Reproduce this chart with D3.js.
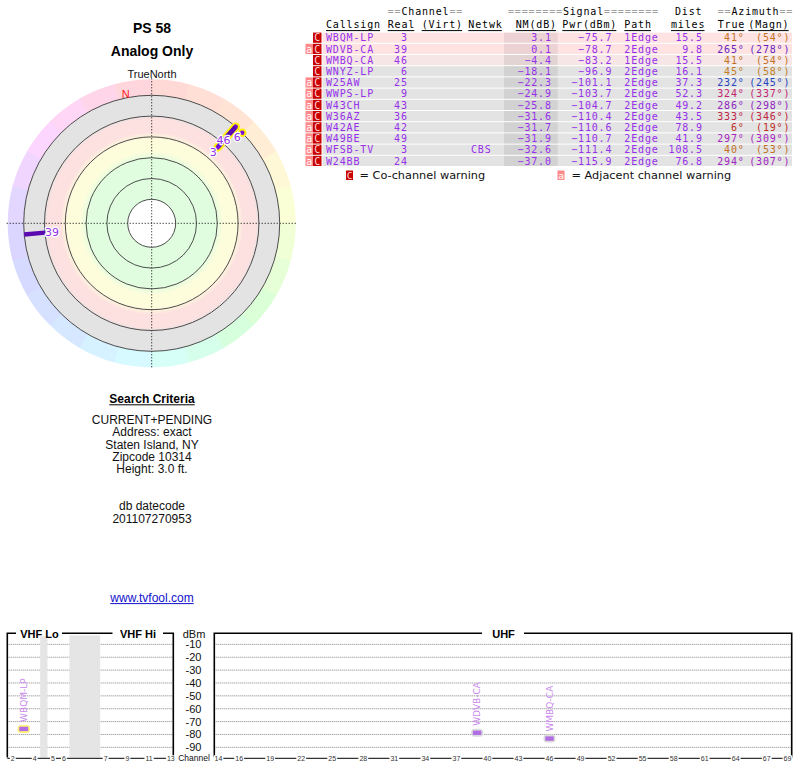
<!DOCTYPE html>
<html><head><meta charset="utf-8">
<script src="https://cdn.jsdelivr.net/npm/d3@7/dist/d3.min.js"></script>
<style>body{margin:0;background:#fff}</style>
</head><body>
<svg id="c" width="800" height="768"></svg>
<script>
// ---------------- DATA ----------------
const titleLines = ["PS 58", "Analog Only"];
const callsigns = ["WBQM-LP","WDVB-CA","WMBQ-CA","WNYZ-LP","W25AW","WWPS-LP","W43CH","W36AZ","W42AE","W49BE","WFSB-TV","W24BB"];
const realCh   = [3,39,46,6,25,9,43,36,42,49,3,24];
const virtCh   = ["","","","","","","","","","","",""];
const networks = ["","","","","","","","","","","CBS",""];
const nmDb     = [3.1,0.1,-4.4,-18.1,-22.3,-24.9,-25.8,-31.6,-31.7,-31.9,-32.6,-37.0];
const pwrDbm   = [-75.7,-78.7,-83.2,-96.9,-101.1,-103.7,-104.7,-110.4,-110.6,-110.7,-111.4,-115.9];
const paths    = ["1Edge","2Edge","1Edge","2Edge","2Edge","2Edge","2Edge","2Edge","2Edge","2Edge","2Edge","2Edge"];
const distMiles= [15.5,9.8,15.5,16.1,37.3,52.3,49.2,43.5,78.9,41.9,108.5,76.8];
const azTrue   = [41,265,41,45,232,324,286,333,6,297,40,294];
const azMagn   = [54,278,54,58,245,337,298,346,19,309,53,307];
const coChannelWarn  = [true,true,true,true,true,true,true,true,true,true,true,true];
const adjChannelWarn = [false,true,false,false,true,true,true,true,true,true,true,true];
const nmRings = [40,30,20,10,0,-10];
const criteriaLines = ["CURRENT+PENDING","Address: exact","Staten Island, NY","Zipcode 10314","Height: 3.0 ft."];
const datecodeLines = ["db datecode","201107270953"];
const siteLink = "www.tvfool.com";
const dbmTicks = [-10,-20,-30,-40,-50,-60,-70,-80,-90];
const vhfTickChannels = [2,4,5,6,7,9,11,13];
const uhfTickChannels = [14,16,19,22,25,28,31,34,37,40,43,46,49,52,55,58,61,64,67,69];
const vhfGapsMHz = [[72,76],[88,174]];

// ---------------- SETUP ----------------
const svg = d3.select("#c");
const SANS = "'Liberation Sans', Arial, sans-serif";
const MONO = "'DejaVu Sans Mono', monospace";
const DJV  = "'DejaVu Sans', Verdana, sans-serif";
const stations = callsigns.map((c,i)=>({i, call:c, ch:realCh[i], virt:virtCh[i], net:networks[i], nm:nmDb[i],
  pwr:pwrDbm[i], path:paths[i], dist:distMiles[i], az:azTrue[i], mag:azMagn[i], co:coChannelWarn[i], adj:adjChannelWarn[i]}));
const PURPLE = "#9630ea";
const textHue = d3.scaleLinear().domain([0,41,232,265,297,324,333,360]).range([0,30,228,265,290,332,348,360]);
const azColor = a => d3.hsl(textHue(a), 0.68, 0.45).formatHex();
const ringHue = d3.scaleLinear().domain([0,45,90,135,180,225,270,315,360]).range([0,25,75,120,180,220,250,305,360]);

// ---------------- TITLES ----------------
const LX = 152;
svg.append("text").attr("x",LX).attr("y",33.3).attr("text-anchor","middle")
  .style("font","bold 14px "+SANS).text(titleLines[0]);
svg.append("text").attr("x",LX).attr("y",56).attr("text-anchor","middle")
  .style("font","bold 14px "+SANS).text(titleLines[1]);
svg.append("text").attr("x",LX).attr("y",77.7).attr("text-anchor","middle")
  .style("font","11px "+SANS).attr("fill","#111").text("TrueNorth");

// ---------------- POLAR ----------------
const cx = 151.7, cy = 223.3;
const rScale = d3.scaleLinear().domain([40,-10]).range([24,128]).clamp(true);
const rOuter = 144;
const pg = svg.append("g").attr("transform",`translate(${cx},${cy})`);
const arc = d3.arc();
d3.range(0,360,15).forEach(a=>{
  pg.append("path").attr("d", arc({innerRadius:126, outerRadius:rOuter,
      startAngle:a*Math.PI/180, endAngle:(a+15.3)*Math.PI/180}))
    .attr("fill", d3.hsl(ringHue(a+7.5),1,0.92).formatHex());
});
const defs = svg.append("defs");
const grad = defs.append("radialGradient").attr("id","zones").attr("gradientUnits","userSpaceOnUse")
  .attr("cx",0).attr("cy",0).attr("r",128);
const R = rScale(-10);
[[0,"#e0fde0"],[rScale(21),"#e0fde0"],[rScale(17),"#fdfddc"],[rScale(11),"#fdfddc"],[rScale(7.5),"#fde0e0"],
 [rScale(1.5),"#fde0e0"],[rScale(-0.5),"#e3e3e3"],[R,"#e3e3e3"]].forEach(([r,c])=>{
  grad.append("stop").attr("offset", r/R).attr("stop-color", c);
});
pg.append("circle").attr("r",R).attr("fill","url(#zones)");
pg.append("circle").attr("r",rScale(40)).attr("fill","#fff");
pg.append("line").attr("x1",-rOuter-1).attr("x2",rOuter+1).attr("y1",0).attr("y2",0)
  .attr("stroke","#000").attr("stroke-dasharray","1,2");
pg.append("line").attr("y1",-rOuter-1).attr("y2",rOuter+1).attr("x1",0).attr("x2",0)
  .attr("stroke","#000").attr("stroke-dasharray","1,2");
nmRings.forEach(v=>{
  pg.append("circle").attr("r",rScale(v)).attr("fill","none").attr("stroke","#3a3a3a").attr("stroke-width",0.9);
});
const pt = (az,r)=>[r*Math.sin(az*Math.PI/180), -r*Math.cos(az*Math.PI/180)];
// magnetic north marker
const decl = azTrue[0]-azMagn[0];
const np = pt(decl,133);
pg.append("text").attr("x",np[0]).attr("y",np[1]).attr("dominant-baseline","central")
  .style("font","11px "+SANS).attr("fill","#ff1a1a").text("N");

const polarSt = stations.filter(s=>s.nm > -20);
polarSt.forEach(s=>{
  if (s.ch < 14) {
    const a = pt(s.az, rScale(s.nm)), b = pt(s.az, rScale(-10));
    pg.append("line").attr("x1",a[0]).attr("y1",a[1]).attr("x2",b[0]).attr("y2",b[1])
      .attr("stroke","#ffee00").attr("stroke-width",8.5).attr("stroke-linecap","round");
  }
});
polarSt.forEach(s=>{
  const a = pt(s.az, rScale(s.nm)), b = pt(s.az, rScale(-10));
  pg.append("line").attr("x1",a[0]).attr("y1",a[1]).attr("x2",b[0]).attr("y2",b[1])
    .attr("stroke", s.ch<14 ? "#7410d8" : "#5a08b0").attr("stroke-width",4.5)
    .attr("stroke-linecap", s.ch<14 ? "round":"butt");
});
polarSt.forEach(s=>{
  const p = pt(s.az, rScale(s.nm)-7);
  pg.append("text").attr("x",p[0]).attr("y",p[1]).attr("text-anchor","middle").attr("dominant-baseline","central")
    .style("font","11px "+DJV).attr("fill",PURPLE).attr("stroke","#fff").attr("stroke-width",2.5)
    .attr("paint-order","stroke").attr("stroke-linejoin","round").text(s.ch);
});

// ---------------- SEARCH CRITERIA ----------------
const sc = svg.append("text").attr("x",LX).attr("y",402.5).attr("text-anchor","middle")
  .style("font","bold 12px "+SANS).text("Search Criteria");
const scw = sc.node().getComputedTextLength();
svg.append("line").attr("x1",LX-scw/2).attr("x2",LX+scw/2).attr("y1",404.8).attr("y2",404.8).attr("stroke","#000").attr("stroke-width",1);
criteriaLines.forEach((t,k)=>{
  svg.append("text").attr("x",LX).attr("y",424+k*12.3).attr("text-anchor","middle")
    .style("font","12px "+SANS).attr("fill","#111").text(t);
});
datecodeLines.forEach((t,k)=>{
  svg.append("text").attr("x",LX).attr("y",510+k*12.5).attr("text-anchor","middle")
    .style("font","12px "+SANS).attr("fill","#111").text(t);
});
const lk = svg.append("text").attr("x",LX).attr("y",601.7).attr("text-anchor","middle")
  .style("font","12px "+SANS).attr("fill","#1111cc").text(siteLink);
const lkw = lk.node().getComputedTextLength();
svg.append("line").attr("x1",LX-lkw/2).attr("x2",LX+lkw/2).attr("y1",603.6).attr("y2",603.6).attr("stroke","#1111cc").attr("stroke-width",1);

// ---------------- TABLE ----------------
const tg = svg.append("g");
const FS = 10;
const LS = "0.84px";
const rowY = i => 37.7 + i*11.2;
function monoText(x, y, anchor){
  const t = tg.append("text").attr("x",x).attr("y",y).attr("text-anchor",anchor||"start")
    .style("font",FS+"px "+MONO).style("letter-spacing",LS);
  return t;
}
function eqText(x, y, str){
  const t = monoText(x,y);
  str.split(/(=+)/).filter(s=>s.length).forEach(part=>{
    t.append("tspan").attr("fill", part[0]==="=" ? "#a0a0a0" : "#000").text(part);
  });
}
eqText(387.7, 15.2, "==Channel==");
eqText(508, 15.2, "========Signal========");
eqText(675, 15.2, "Dist");
eqText(717.7, 15.2, "==Azimuth==");
[["Callsign",326],["Real",387.7],["(Virt)",421.7],["Netwk",468.3],["NM(dB)",515.7],["Pwr(dBm)",562.3],
 ["Path",624.3],["miles",671],["True",717.7],["(Magn)",748.3]].forEach(([t,x])=>{
  const el = monoText(x,28.4).attr("fill","#000").text(t);
  const w = el.node().getComputedTextLength();
  tg.append("line").attr("x1",x).attr("x2",x+w-0.8).attr("y1",30.6).attr("y2",30.6).attr("stroke","#000").attr("stroke-width",1);
});
// end-anchored text: compensate trailing letter-spacing
const END = 0.84;
stations.forEach(s=>{
  const yc = rowY(s.i);
  const bg = s.nm >= 0 ? "#ffe3e3" : (s.nm > -10 ? "#f6e6e6" : "#e3e3e3");
  tg.append("rect").attr("x",322.5).attr("y",yc-5.1).attr("width",469.5).attr("height",10.2).attr("fill",bg);
  tg.append("rect").attr("x",504).attr("y",yc-5.1).attr("width",53.7).attr("height",10.2).attr("fill","rgba(0,0,0,0.075)");
  if (s.co) {
    tg.append("rect").attr("x",313).attr("y",yc-5.1).attr("width",8.5).attr("height",10.2).attr("fill","#c80000");
    tg.append("text").attr("x",317.3).attr("y",yc+3.6).attr("text-anchor","middle").style("font","10px "+MONO).attr("fill","#ffd8d8").text("C");
  }
  if (s.adj) {
    tg.append("rect").attr("x",305.5).attr("y",yc-5.1).attr("width",7.5).attr("height",10.2).attr("fill","#ff8a8a");
    tg.append("text").attr("x",309.3).attr("y",yc+3.6).attr("text-anchor","middle").style("font","10px "+MONO).attr("fill","#fff").text("a");
  }
  const cell = (x, anchor, txt, col) => monoText(anchor==="end" ? x+END : x, yc+3.7, anchor)
    .attr("fill",col||PURPLE).text(txt);
  cell(326,"start",s.call);
  cell(407,"end",s.ch);
  cell(463,"end",s.virt);
  cell(471,"start",s.net);
  cell(551,"end",d3.format(".1f")(s.nm));
  cell(611.5,"end",d3.format(".1f")(s.pwr));
  cell(624.3,"start",s.path);
  cell(702,"end",d3.format(".1f")(s.dist));
  cell(743.8,"end",s.az+"°",azColor(s.az));
  cell(789.5,"end","("+s.mag+"°)",azColor(s.az));
});
// legend
tg.append("rect").attr("x",346).attr("y",170.5).attr("width",7).attr("height",9.5).attr("fill","#c80000");
tg.append("text").attr("x",349.5).attr("y",178.6).attr("text-anchor","middle").style("font","9.5px "+MONO).attr("fill","#ffd8d8").text("C");
tg.append("text").attr("x",359.5).attr("y",179).style("font","11.3px "+DJV).attr("fill","#111").text("= Co-channel warning");
tg.append("rect").attr("x",557.5).attr("y",170.5).attr("width",7).attr("height",9.5).attr("fill","#ff8a8a");
tg.append("text").attr("x",561).attr("y",178.6).attr("text-anchor","middle").style("font","9.5px "+MONO).attr("fill","#fff").text("a");
tg.append("text").attr("x",571.5).attr("y",179).style("font","11.3px "+DJV).attr("fill","#111").text("= Adjacent channel warning");

// ---------------- SPECTRUM ----------------
const sg = svg.append("g");
const yS = d3.scaleLinear().domain([0,-100]).range([631.5,760.2]);
const chMHz = c => c<=4 ? 57+(c-2)*6 : (c<=6 ? 79+(c-5)*6 : 177+(c-7)*6);
const xV = d3.scaleLinear().domain([54,88,174,216]).range([7.3,69.4,100.2,176.3]);
const xU = d3.scaleLinear().domain([13.5,69.5]).range([213.3,792.6]);
const VL=7.3, VR=173.3, UL=214.3, UR=791.7, TOP=633.3, BOT=757.5;
const chX = c => c<14 ? xV(chMHz(c)) : xU(c);
const chW = c => c<14 ? (xV(chMHz(c)+3)-xV(chMHz(c)-3)) : (xU(c+0.5)-xU(c-0.5));

// gridlines
dbmTicks.forEach(v=>{
  [[VL,VR],[UL,UR]].forEach(([a,b])=>{
    sg.append("line").attr("x1",a).attr("x2",b).attr("y1",yS(v)).attr("y2",yS(v))
      .attr("stroke","#777").attr("stroke-width",0.9).attr("stroke-dasharray","1,1");
  });
});
// VHF gaps
vhfGapsMHz.forEach(([a,b])=>{
  sg.append("rect").attr("x",xV(a)).attr("y",TOP+2).attr("width",xV(b)-xV(a)).attr("height",BOT-TOP-2).attr("fill","#e5e5e5");
});
// frames
sg.append("path").attr("d",`M${VL},${BOT}V${TOP}H${VR}V${BOT}`).attr("fill","none").attr("stroke","#000").attr("stroke-width",1.6);
sg.append("path").attr("d",`M${UL},${BOT}V${TOP}H${UR}V${BOT}`).attr("fill","none").attr("stroke","#000").attr("stroke-width",1.6);
[["VHF Lo",39.5,16,62],["VHF Hi",138,112.5,163],["UHF",503.5,482,524]].forEach(([t,x,a,b])=>{
  sg.append("rect").attr("x",a).attr("y",TOP-3).attr("width",b-a).attr("height",6).attr("fill","#fff");
  sg.append("text").attr("x",x).attr("y",637.6).attr("text-anchor","middle").style("font","bold 11px "+SANS).text(t);
});
// y labels
sg.append("text").attr("x",194).attr("y",637.6).attr("text-anchor","middle").style("font","11px "+SANS).attr("fill","#111").text("dBm");
dbmTicks.forEach(v=>{
  sg.append("text").attr("x",193.5).attr("y",yS(v)+4).attr("text-anchor","middle").style("font","11px "+SANS).attr("fill","#111").text(v);
});
sg.append("text").attr("x",194).attr("y",761).attr("text-anchor","middle").style("font","8.5px "+SANS).attr("fill","#111").text("Channel");
// channel axes
const AX = 758.3;
[[VL,VR],[UL,UR]].forEach(([a,b])=>{
  sg.append("line").attr("x1",a).attr("x2",b).attr("y1",AX).attr("y2",AX).attr("stroke","#000").attr("stroke-width",1);
});
vhfTickChannels.concat(uhfTickChannels).forEach(c=>{
  const x = chX(c);
  const t = sg.append("text").attr("x",x).attr("y",AX+2.5).attr("text-anchor","middle").style("font","7px "+SANS).attr("fill","#333").text(c);
  const w = t.node().getComputedTextLength();
  sg.insert("rect","text:last-child").attr("x",x-w/2-1).attr("y",AX-3).attr("width",w+2).attr("height",6).attr("fill","#fff");
});
// bars
stations.filter(s=>s.pwr > -90).forEach(s=>{
  const x = chX(s.ch), w = chW(s.ch)*0.82, y = yS(s.pwr);
  sg.append("rect").attr("x",x-w/2-1.8).attr("y",y-4).attr("width",w+3.6).attr("height",8).attr("rx",3.5)
    .attr("fill", s.ch<14 ? "#fff27a" : "#dcdcdc");
  sg.append("rect").attr("x",x-w/2).attr("y",y-2.2).attr("width",w).attr("height",4.4).attr("fill","#b06ee2");
  sg.append("text").attr("transform",`translate(${x+3},${y-7}) rotate(-90)`).style("font","9px "+DJV)
    .attr("fill","#c98aec").text(s.call);
});
</script>
</body></html>
